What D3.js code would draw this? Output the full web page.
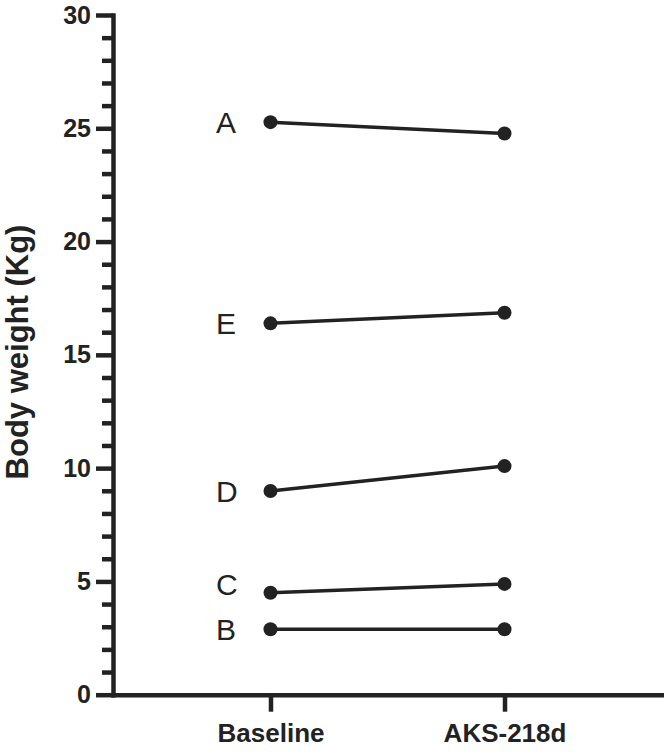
<!DOCTYPE html>
<head>
  <meta charset="utf-8" />
  <script src="https://d3js.org/d3.v7.min.js"></script>
  <style>
    body { margin: 0; background: #fff; }
    text { font-family: "Liberation Sans", Arial, sans-serif; fill: #222; }
  </style>
</head>
<body>
  <div id="chart"></div>
  <script>
    // donnees
    const timepoints = ["Baseline", "AKS-218d"];
    const subjects = ["A", "E", "D", "C", "B"];
    const baseline = [25.27, 16.39, 8.99, 4.50, 2.89];
    const aks218d = [24.77, 16.86, 10.09, 4.89, 2.89];
    const yTicks = [0, 5, 10, 15, 20, 25, 30];

    const width = 664, height = 755;
    const ink = "#222";

    const svg = d3.select("#chart")
      .append("svg")
      .attr("width", width)
      .attr("height", height);

    const y = d3.scaleLinear().domain([0, 30]).range([694.7, 15]);
    const x = d3.scalePoint().domain(timepoints).range([113, 662]).padding(0.673);

    // petits ticks (chaque unite)
    svg.append("g")
      .attr("transform", "translate(113,0)")
      .call(d3.axisLeft(y)
        .tickValues(d3.range(0, 31).filter(d => d % 5 !== 0))
        .tickSize(11)
        .tickSizeOuter(0)
        .tickFormat(""))
      .call(g => g.select(".domain").remove())
      .selectAll("line").attr("stroke", ink).attr("stroke-width", 4.5);

    // axe y principal
    const yAxis = svg.append("g")
      .attr("transform", "translate(113,0)")
      .call(d3.axisLeft(y).tickValues(yTicks).tickSize(17).tickSizeOuter(0).tickPadding(5));
    yAxis.select(".domain").attr("stroke", ink).attr("stroke-width", 4.5).attr("stroke-linecap", "square");
    yAxis.selectAll("line").attr("stroke", ink).attr("stroke-width", 4.5);
    yAxis.selectAll("text")
      .style("font-size", "25px").style("font-weight", "bold")
      .attr("fill", ink);

    // axe x
    const xAxis = svg.append("g")
      .attr("transform", "translate(0,694.7)")
      .call(d3.axisBottom(x).tickSize(17).tickSizeOuter(0).tickPadding(12));
    xAxis.select(".domain").attr("stroke", ink).attr("stroke-width", 4.5).attr("stroke-linecap", "square");
    xAxis.selectAll("line").attr("stroke", ink).attr("stroke-width", 4.5);
    xAxis.selectAll("text")
      .style("font-size", "26px").style("font-weight", "bold")
      .attr("fill", ink);

    // titre axe y
    svg.append("text")
      .attr("transform", "translate(28,352) rotate(-90)")
      .attr("text-anchor", "middle")
      .style("font-size", "31px")
      .style("font-weight", "bold")
      .text("Body weight (Kg)");

    const rows = subjects.map((s, i) => ({ id: s, values: [baseline[i], aks218d[i]] }));

    const line = d3.line()
      .x((d, i) => x(timepoints[i]))
      .y(d => y(d));

    const groups = svg.append("g").selectAll("g")
      .data(rows)
      .join("g");

    groups.append("path")
      .attr("d", d => line(d.values))
      .attr("fill", "none")
      .attr("stroke", ink)
      .attr("stroke-width", 3.5);

    groups.selectAll("circle")
      .data(d => d.values)
      .join("circle")
      .attr("cx", (d, i) => x(timepoints[i]))
      .attr("cy", d => y(d))
      .attr("r", 7)
      .attr("fill", ink);

    // lettres des sujets (C un peu remonte)
    groups.append("text")
      .attr("x", 216)
      .attr("y", d => y(d.values[0]) + (d.id === "C" ? -9 : 0))
      .attr("dy", "0.36em")
      .style("font-size", "30px")
      .text(d => d.id);
  </script>
</body>
